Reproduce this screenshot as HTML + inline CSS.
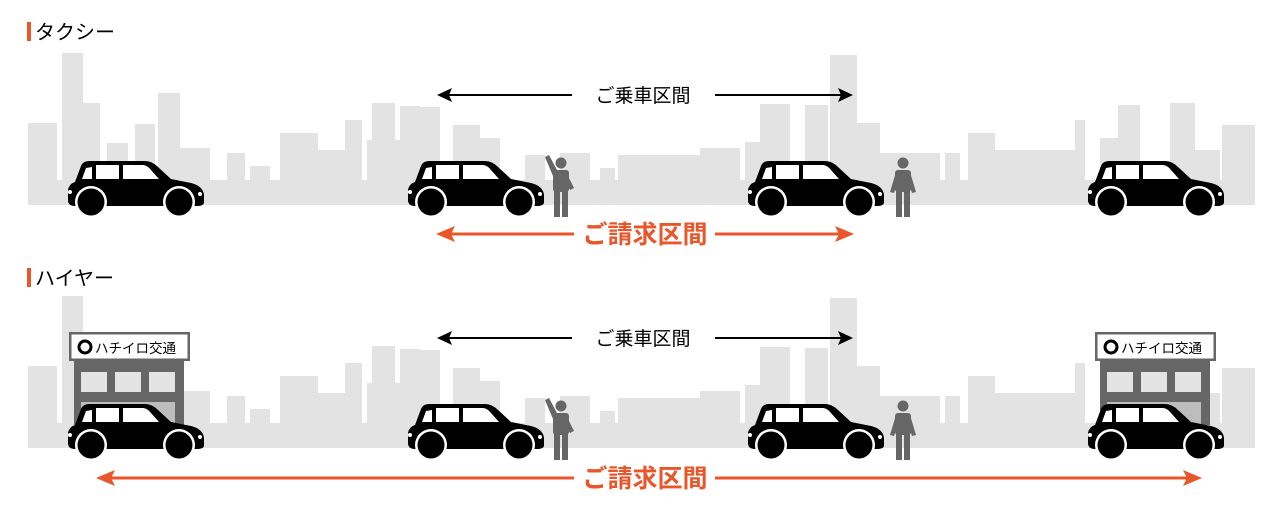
<!DOCTYPE html>
<html><head><meta charset="utf-8"><style>
html,body{margin:0;padding:0;background:#fff;}
svg{display:block;font-family:"Liberation Sans","Noto Sans CJK JP",sans-serif;}
</style></head><body>
<svg width="1280" height="512" viewBox="0 0 1280 512" xmlns="http://www.w3.org/2000/svg">
<defs>
<g id="sky" fill="#e3e3e3">
<rect x="28" y="180" width="1227" height="25"/>
<rect x="28" y="123" width="29" height="82"/>
<rect x="62" y="53" width="21" height="152"/>
<rect x="83" y="103" width="17" height="102"/>
<rect x="107" y="143" width="21" height="62"/>
<rect x="135" y="124" width="20" height="81"/>
<rect x="158" y="93" width="22" height="112"/>
<rect x="180" y="148" width="30" height="57"/>
<rect x="227" y="153" width="18" height="52"/>
<rect x="250" y="166" width="20" height="39"/>
<rect x="280" y="133" width="38" height="72"/>
<rect x="318" y="150" width="32" height="55"/>
<rect x="345" y="120" width="17" height="85"/>
<rect x="367" y="140" width="45" height="65"/>
<rect x="372" y="103" width="23" height="102"/>
<rect x="400" y="106" width="20" height="99"/>
<rect x="420" y="107" width="20" height="98"/>
<rect x="453" y="125" width="27" height="80"/>
<rect x="480" y="138" width="20" height="67"/>
<rect x="525" y="155" width="20" height="50"/>
<rect x="560" y="153" width="30" height="52"/>
<rect x="600" y="168" width="15" height="37"/>
<rect x="618" y="155" width="82" height="50"/>
<rect x="700" y="148" width="40" height="57"/>
<rect x="745" y="142" width="25" height="63"/>
<rect x="760" y="104" width="30" height="101"/>
<rect x="805" y="105" width="23" height="100"/>
<rect x="830" y="55" width="27" height="150"/>
<rect x="857" y="123" width="23" height="82"/>
<rect x="880" y="153" width="60" height="52"/>
<rect x="945" y="153" width="15" height="52"/>
<rect x="968" y="133" width="27" height="72"/>
<rect x="995" y="150" width="80" height="55"/>
<rect x="1075" y="120" width="10" height="85"/>
<rect x="1100" y="138" width="40" height="67"/>
<rect x="1118" y="105" width="22" height="100"/>
<rect x="1170" y="103" width="25" height="102"/>
<rect x="1195" y="150" width="25" height="55"/>
<rect x="1222" y="125" width="33" height="80"/>
</g>
<g id="car">
<path d="M8,22 L14,6 Q16,1 22,1 L78,1 Q85,1 91,7 L104,19 L124,23 Q136,26 137,35 L137,43 Q136,46 130,46 L8,46 Q1,46 1,40 L1,30 Q2,24 8,22 Z" fill="#000"/>
<path d="M15,19 L19,8 L25,7 L25,19 Z M29,5 L52,5 L52,19 L29,19 Z M56,5 L76,5 Q80,5 84,10 L92,19 L56,19 Z" fill="#fff"/>
<circle cx="3" cy="32" r="2" fill="#fff"/>
<circle cx="133" cy="34" r="2" fill="#fff"/>
<circle cx="24" cy="42" r="16" fill="#fff"/><circle cx="24" cy="42" r="13.5" fill="#000"/>
<circle cx="112" cy="42" r="16" fill="#fff"/><circle cx="112" cy="42" r="13.5" fill="#000"/>
</g>
<g id="wave" fill="#666">
<circle cx="561" cy="163" r="5.5"/>
<rect x="553" y="170" width="16" height="22" rx="3"/>
<rect x="554" y="188" width="6" height="29"/><rect x="562" y="188" width="6" height="29"/>
<path d="M553,176 L545,157 L549,155 L558,172 Z"/>
<path d="M566,172 L574,188 L570,190 L563,178 Z"/>
</g>
<g id="stand" fill="#666">
<circle cx="903" cy="163" r="5.5"/>
<rect x="895" y="170" width="16" height="22" rx="3"/>
<rect x="896" y="188" width="6" height="29"/><rect x="904" y="188" width="6" height="29"/>
<path d="M896,172 L890,192 L894,193 L899,178 Z"/>
<path d="M910,172 L916,192 L912,193 L907,178 Z"/>
</g>
<g id="bld">
<rect x="5" y="0" width="110" height="93" fill="#666"/>
<rect x="0" y="0" width="121" height="29" fill="#666"/>
<rect x="2.5" y="2.5" width="116" height="24" fill="#fff"/>
<rect x="12" y="40" width="26" height="20" fill="#e3e3e3"/>
<rect x="46" y="40" width="26" height="20" fill="#e3e3e3"/>
<rect x="80" y="40" width="26" height="20" fill="#e3e3e3"/>
<rect x="12" y="70" width="94" height="23" fill="#bdbdbd"/>
<circle cx="16" cy="15" r="6" fill="none" stroke="#000" stroke-width="3"/>
<text x="26" y="21" font-size="13.5" fill="#000">ハチイロ交通</text>
</g>
</defs>

<!-- Taxi -->
<rect x="27" y="22" width="4" height="19" fill="#e8562a"/>
<text x="35" y="39" font-size="20" fill="#000">タクシー</text>
<use href="#sky"/>
<use href="#car" x="67" y="160"/>
<use href="#car" x="407" y="160"/>
<use href="#car" x="747" y="160"/>
<use href="#car" x="1087" y="160"/>
<use href="#wave"/>
<use href="#stand"/>
<g stroke="#000" stroke-width="2">
<line x1="445" y1="95" x2="572" y2="95"/><line x1="715" y1="95" x2="845" y2="95"/>
</g>
<path d="M437,95 L452,88 L449,95 L452,102 Z M853,95 L838,88 L841,95 L838,102 Z" fill="#000"/>
<text x="643" y="102" font-size="19" text-anchor="middle" fill="#000">ご乗車区間</text>
<g stroke="#e8562a" stroke-width="3">
<line x1="445" y1="234" x2="574" y2="234"/><line x1="715" y1="234" x2="845" y2="234"/>
</g>
<path d="M436,234 L455,226 L451,234 L455,242 Z M854,234 L835,226 L839,234 L835,242 Z" fill="#e8562a"/>
<text x="645" y="243" font-size="25" font-weight="bold" text-anchor="middle" fill="#e8562a">ご請求区間</text>

<!-- Hire -->
<rect x="27" y="268" width="4" height="19" fill="#e8562a"/>
<text x="35" y="285" font-size="20" fill="#000">ハイヤー</text>
<use href="#sky" y="243"/>
<use href="#bld" x="69" y="332"/>
<use href="#bld" x="1095" y="332"/>
<use href="#car" x="67" y="403"/>
<use href="#car" x="407" y="403"/>
<use href="#car" x="747" y="403"/>
<use href="#car" x="1087" y="403"/>
<use href="#wave" y="243"/>
<use href="#stand" y="243"/>
<g stroke="#000" stroke-width="2">
<line x1="445" y1="338" x2="572" y2="338"/><line x1="715" y1="338" x2="845" y2="338"/>
</g>
<path d="M437,338 L452,331 L449,338 L452,345 Z M853,338 L838,331 L841,338 L838,345 Z" fill="#000"/>
<text x="643" y="345" font-size="19" text-anchor="middle" fill="#000">ご乗車区間</text>
<g stroke="#e8562a" stroke-width="3">
<line x1="105" y1="478" x2="574" y2="478"/><line x1="715" y1="478" x2="1192" y2="478"/>
</g>
<path d="M96,478 L115,470 L111,478 L115,486 Z M1202,478 L1183,470 L1187,478 L1183,486 Z" fill="#e8562a"/>
<text x="645" y="487" font-size="25" font-weight="bold" text-anchor="middle" fill="#e8562a">ご請求区間</text>
</svg>
</body></html>
